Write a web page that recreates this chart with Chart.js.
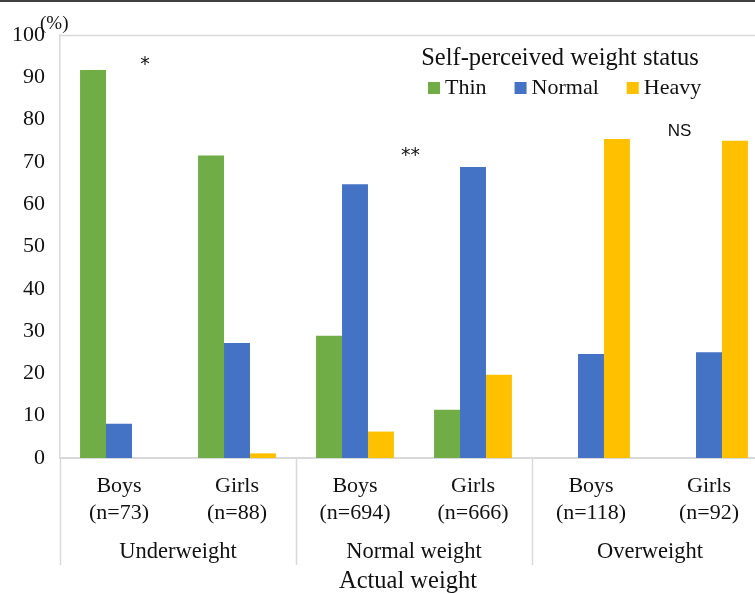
<!DOCTYPE html>
<html>
<head>
<meta charset="utf-8">
<script src="https://cdn.jsdelivr.net/npm/chart.js@4"></script>
<style>
html,body{margin:0;padding:0;background:#fff;overflow:hidden;}
#wrap{width:755px;height:594px;overflow:hidden;position:relative;}
#box{width:770px;height:594px;}
</style>
</head>
<body>
<div id="wrap"><div id="box"><canvas id="c"></canvas></div></div>
<script>
const categories = [["Boys","(n=73)"],["Girls","(n=88)"],["Boys","(n=694)"],["Girls","(n=666)"],["Boys","(n=118)"],["Girls","(n=92)"]];
const groups = ["Underweight","Normal weight","Overweight"];
const seriesNames = ["Thin","Normal","Heavy"];
const thin   = [91.7, 71.5, 28.9, 11.4, 0, 0];
const normal = [8.1, 27.2, 64.7, 68.8, 24.6, 25.0];
const heavy  = [0, 1.1, 6.25, 19.7, 75.4, 75.0];
const colors = ["#70AD47","#4472C4","#FFC000"];
const yTicks = [0,10,20,30,40,50,60,70,80,90,100];
const legendTitle = "Self-perceived weight status";
const xTitle = "Actual weight";
const yUnit = "(%)";
// significance marks: [category position, value, text]
const marks = [[0.22, 92.9, "*"], [2.47, 71.3, "**"], [4.75, 77.2, "NS"]];

const SERIF = "'Liberation Serif', 'Times New Roman', serif";
const SANS = "'Liberation Sans', Arial, sans-serif";
const STAR = "'DejaVu Sans', sans-serif";
const TXT = "#111";
const LINE = "#d9d9d9";

const extras = {
  id: 'extras',
  afterDraw(chart) {
    const ctx = chart.ctx;
    const ca = chart.chartArea;
    const xs = chart.scales.x, ys = chart.scales.y;
    const W = chart.width;
    ctx.save();
    // top frame line of the image
    ctx.fillStyle = "#404040";
    ctx.fillRect(0, 0, W, 2);
    // plot top border
    ctx.strokeStyle = LINE;
    ctx.lineWidth = 1.5;
    ctx.beginPath();
    ctx.moveTo(ca.left, ca.top + 0.5);
    ctx.lineTo(W, ca.top + 0.5);
    ctx.stroke();
    // vertical separators below axis
    const bottomY = 565;
    ctx.lineWidth = 1.5;
    const seps = [ca.left];
    for (let g = 1; g < groups.length; g++) {
      const i = g * 2;
      seps.push((xs.getPixelForValue(i - 1) + xs.getPixelForValue(i)) / 2);
    }
    ctx.beginPath();
    seps.forEach(x => { ctx.moveTo(Math.round(x) + 0.5, ca.bottom); ctx.lineTo(Math.round(x) + 0.5, bottomY); });
    ctx.stroke();
    // group labels
    ctx.fillStyle = TXT;
    ctx.textAlign = 'center';
    ctx.textBaseline = 'middle';
    ctx.font = "22.5px " + SERIF;
    groups.forEach((g, k) => {
      const cx = (xs.getPixelForValue(2 * k) + xs.getPixelForValue(2 * k + 1)) / 2;
      ctx.fillText(g, cx, 552);
    });
    // axis title
    ctx.font = "24.5px " + SERIF;
    ctx.fillText(xTitle, 408, 582);
    // unit
    ctx.font = "19px " + SERIF;
    ctx.textAlign = 'left';
    ctx.fillText(yUnit, 40, 24);
    // significance marks
    ctx.textAlign = 'center';
    marks.forEach(([pos, v, t]) => {
      const i0 = Math.floor(pos), f = pos - i0;
      const x = xs.getPixelForValue(i0) + f * (xs.getPixelForValue(i0 + 1) - xs.getPixelForValue(i0));
      ctx.font = t.indexOf('*') >= 0 ? "19px " + STAR : "17px " + SANS;
      ctx.fillText(t, x, ys.getPixelForValue(v));
    });
    // legend
    ctx.font = "24.5px " + SERIF;
    ctx.textAlign = 'center';
    ctx.fillText(legendTitle, 560, 59);
    ctx.font = "22px " + SERIF;
    ctx.textAlign = 'left';
    let x = 428;
    chart.data.datasets.forEach((ds, k) => {
      ctx.fillStyle = ds.backgroundColor;
      ctx.fillRect(x, 82, 12, 12);
      ctx.fillStyle = TXT;
      ctx.fillText(ds.label, x + 17, 88);
      x += 17 + ctx.measureText(ds.label).width + 28;
    });
    ctx.restore();
  }
};

new Chart(document.getElementById('c'), {
  type: 'bar',
  data: {
    labels: categories,
    datasets: [
      {label: seriesNames[0], data: thin, backgroundColor: colors[0]},
      {label: seriesNames[1], data: normal, backgroundColor: colors[1]},
      {label: seriesNames[2], data: heavy, backgroundColor: colors[2]}
    ]
  },
  options: {
    responsive: true,
    maintainAspectRatio: false,
    animation: false,
    devicePixelRatio: 1,
    layout: {padding: {top: 35, right: 2, left: 0, bottom: 0}},
    datasets: {bar: {categoryPercentage: 0.66, barPercentage: 1.0}},
    plugins: {legend: {display: false}, tooltip: {enabled: false}},
    scales: {
      x: {
        grid: {display: false, drawTicks: false},
        border: {display: true, color: LINE, width: 2},
        ticks: {color: TXT, padding: 14, maxRotation: 0, autoSkip: false,
                font: {family: SERIF, size: 22, lineHeight: 1.25}},
        afterFit(s) { s.height = 136; }
      },
      y: {
        min: 0, max: 100,
        afterBuildTicks(s) { s.ticks = yTicks.map(v => ({value: v})); },
        grid: {display: false, drawTicks: false},
        border: {display: true, color: LINE, width: 1.5},
        ticks: {color: TXT, padding: 15, font: {family: SERIF, size: 22}},
        afterFit(s) { s.width = 60; }
      }
    }
  },
  plugins: [extras]
});
</script>
</body>
</html>
